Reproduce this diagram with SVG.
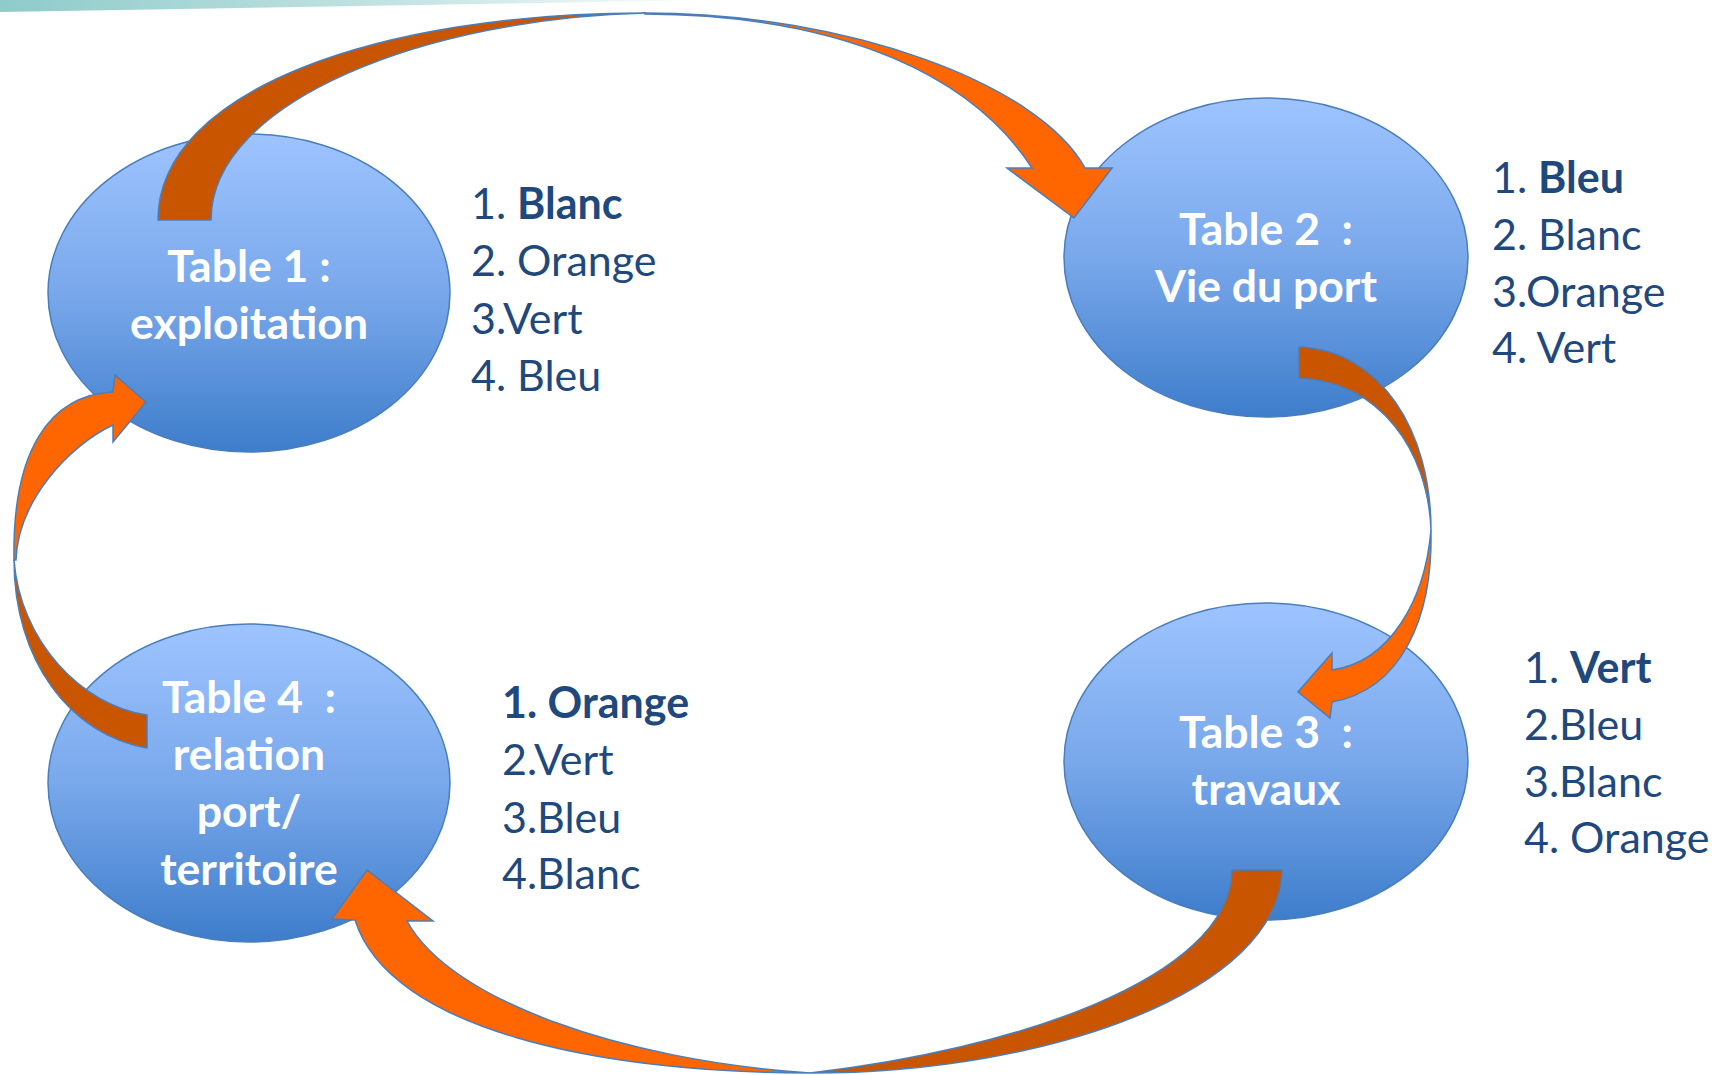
<svg xmlns="http://www.w3.org/2000/svg" width="1718" height="1075" viewBox="0 0 1718 1075">
<defs>
<linearGradient id="nodeGrad" x1="0" y1="0" x2="0" y2="1">
<stop offset="0" stop-color="#9ec4ff"/>
<stop offset="0.5" stop-color="#79a8eb"/>
<stop offset="1" stop-color="#3e7dcb"/>
</linearGradient>
<linearGradient id="topBar" x1="0" y1="0" x2="1" y2="0">
<stop offset="0" stop-color="#8ecbc9"/>
<stop offset="0.6" stop-color="#c8e6e5"/>
<stop offset="1" stop-color="#ffffff"/>
</linearGradient>
<style>
.node ellipse{fill:url(#nodeGrad);stroke:#4a7ebb;stroke-width:1.5}
.ntxt{font-family:Lato,"Open Sans",sans-serif;font-weight:bold;font-size:44.5px;fill:#ffffff;text-anchor:middle}
.list{font-family:Lato,"Open Sans",sans-serif;font-size:43px;fill:#1f497d}
.b{font-weight:bold}
.dark{fill:#c95500;stroke:#4a7ebb;stroke-width:1.5;stroke-linejoin:round}
.light{fill:#ff6600;stroke:#4a7ebb;stroke-width:1.5;stroke-linejoin:miter}
</style>
</defs>
<rect width="1718" height="1075" fill="#ffffff"/>
<path d="M0,0 L720,0 L0,12 Z" fill="url(#topBar)"/>

<g id="node1" class="node">
<ellipse cx="249" cy="293" rx="201" ry="159"/>
<text class="ntxt" x="249" y="282">Table 1 :</text>
<text class="ntxt" x="249" y="339">exploitation</text>
</g>
<g id="node2" class="node">
<ellipse cx="1266" cy="257.5" rx="202" ry="159.5"/>
<text class="ntxt" x="1266" y="245" xml:space="preserve">Table 2  :</text>
<text class="ntxt" x="1266" y="302">Vie du port</text>
</g>
<g id="node3" class="node">
<ellipse cx="1266" cy="761.5" rx="202" ry="158.5"/>
<text class="ntxt" x="1266" y="748" xml:space="preserve">Table 3  :</text>
<text class="ntxt" x="1266" y="805">travaux</text>
</g>
<g id="node4" class="node">
<ellipse cx="249" cy="783" rx="201" ry="159"/>
<text class="ntxt" x="249" y="713" xml:space="preserve">Table 4  :</text>
<text class="ntxt" x="249" y="770">relation</text>
<text class="ntxt" x="249" y="827">port/</text>
<text class="ntxt" x="249" y="885">territoire</text>
</g>

<g id="list1" class="list">
<text x="471" y="219">1. <tspan class="b">Blanc</tspan></text>
<text x="471" y="276">2. Orange</text>
<text x="471" y="334">3.Vert</text>
<text x="471" y="391">4. Bleu</text>
</g>
<g id="list2" class="list">
<text x="1492" y="193">1. <tspan class="b">Bleu</tspan></text>
<text x="1492" y="250">2. Blanc</text>
<text x="1492" y="307">3.Orange</text>
<text x="1492" y="363">4. Vert</text>
</g>
<g id="list3" class="list">
<text x="1524" y="683">1. <tspan class="b">Vert</tspan></text>
<text x="1524" y="740">2.Bleu</text>
<text x="1524" y="797">3.Blanc</text>
<text x="1524" y="853">4. Orange</text>
</g>
<g id="list4" class="list">
<text x="502" y="718" class="b">1. Orange</text>
<text x="502" y="775">2.Vert</text>
<text x="502" y="833">3.Bleu</text>
<text x="502" y="889">4.Blanc</text>
</g>

<g id="connectors">
<g id="arrow1to2">
<path class="dark" d="M158,220 C158,90 380,13 645,13 C430,18 211,100 211,220 Z"/>
<path class="light" d="M645,13 C850,13 1040,85 1085,168 L1112,168 L1074,218 L1007,168 L1032,168 C975,80 850,15 645,14 Z"/>
</g>
<g id="arrow2to3">
<path class="dark" d="M1299,347 C1380,350 1431,430 1431,530 C1428,450 1380,382 1299,378 Z"/>
<path class="light" d="M1431,530 C1433,620 1400,690 1332,702 L1330,718 L1298,692 L1332,653 L1332,670 C1390,662 1425,600 1431,530 Z"/>
</g>
<g id="arrow3to4">
<path class="dark" d="M1282,870 C1280,990 1050,1073 810,1073 C1010,1050 1230,980 1232,870 Z"/>
<path class="light" d="M810,1073 C600,1073 390,1030 355,920 L332,919 L367,870 L433,921 L407,921 C450,1000 620,1060 810,1073 Z"/>
</g>
<g id="arrow4to1">
<path class="dark" d="M147,748 C70,735 14,660 14,560 C20,640 80,705 147,715 Z"/>
<path class="light" d="M14,560 C12,450 50,395 113,392 L115,375 L146,402 L113,442 L113,425 C70,445 18,500 16,560 Z"/>
</g>
</g>
</svg>
